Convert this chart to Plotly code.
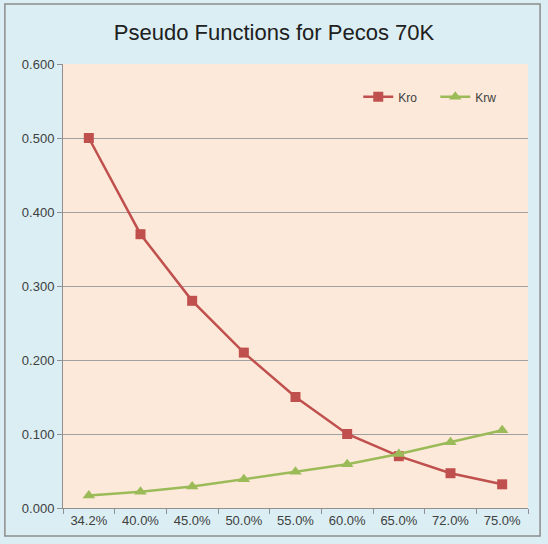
import plotly.graph_objects as go

# Saturation categories and relative permeabilities
sw_labels = ["34.2%", "40.0%", "45.0%", "50.0%", "55.0%", "60.0%", "65.0%", "72.0%", "75.0%"]
kro = [0.500, 0.370, 0.280, 0.210, 0.150, 0.100, 0.070, 0.047, 0.032]
krw = [0.017, 0.022, 0.029, 0.039, 0.049, 0.059, 0.073, 0.089, 0.105]

fig = go.Figure()
fig.add_trace(go.Scatter(
    x=sw_labels, y=kro, name="Kro", mode="lines+markers",
    line=dict(color="#C0504D", width=2.5),
    marker=dict(symbol="square", size=10, color="#C0504D"),
))
fig.add_trace(go.Scatter(
    x=sw_labels, y=krw, name="Krw", mode="lines+markers",
    line=dict(color="#9BBB59", width=2.5),
    marker=dict(symbol="triangle-up", size=11, color="#9BBB59"),
))

fig.update_layout(
    width=548, height=544,
    paper_bgcolor="#DAEEF3",
    plot_bgcolor="#FDE9D9",
    font=dict(family="Liberation Sans, Arial, sans-serif", size=13, color="#404040"),
    title=dict(text="Pseudo Functions for Pecos 70K", x=0.5, xanchor="center",
               y=0.94, yanchor="middle",
               font=dict(size=22, color="#202020")),
    margin=dict(l=63, r=20, t=64, b=36, autoexpand=False),
    showlegend=True,
    legend=dict(orientation="h", x=0.635, y=0.926, xanchor="left", yanchor="middle",
                bgcolor="rgba(0,0,0,0)", font=dict(size=12, color="#404040"),
                itemwidth=30, entrywidth=32),
    xaxis=dict(type="category", showgrid=False, showline=True, linecolor="#909090",
               ticks="outside", tickson="boundaries", ticklen=5, tickcolor="#909090",
               range=[-0.5, 8.5], tickangle=0),
    yaxis=dict(range=[0, 0.6], dtick=0.1, tickformat=".3f", showgrid=True,
               gridcolor="#A0A0A0", gridwidth=1, showline=True, linecolor="#909090",
               ticks="outside", ticklen=5, tickcolor="#909090", zeroline=False),
    shapes=[dict(type="rect", xref="paper", yref="paper",
                 x0=-0.125, x1=1.026, y0=-0.063, y1=1.135,
                 line=dict(color="#8C8C8C", width=1.5), fillcolor="rgba(0,0,0,0)",
                 layer="below")],
)

fig.write_html("out.html", config={"displayModeBar": False},
               post_script="document.body.style.margin='0';")
